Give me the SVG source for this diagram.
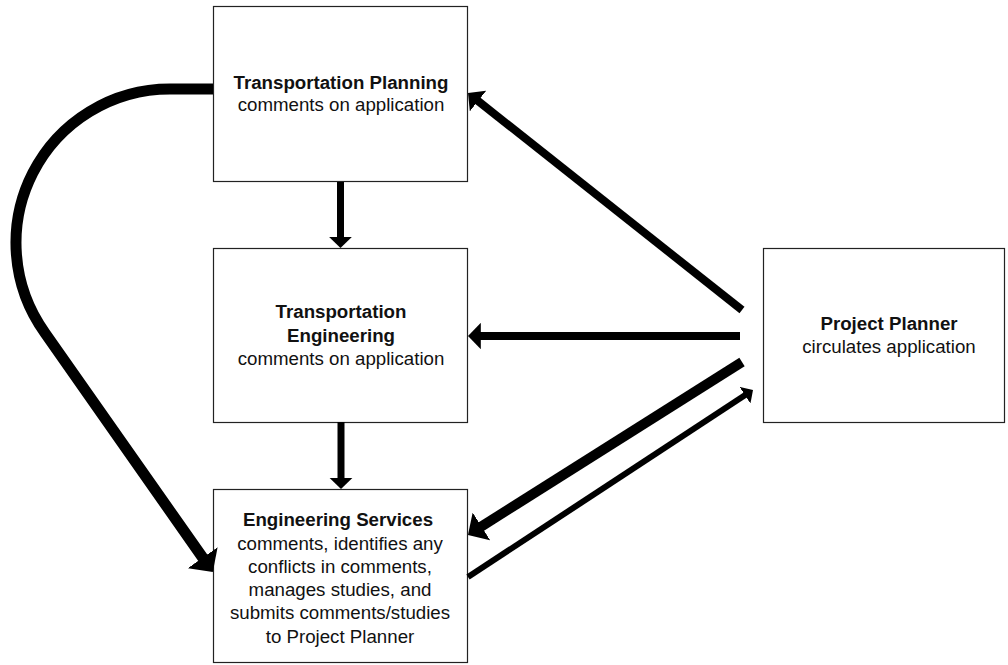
<svg xmlns="http://www.w3.org/2000/svg" width="1008" height="665" viewBox="0 0 1008 665">
<style>
.box{fill:#fff;stroke:#222;stroke-width:1.2}
.t{font-family:"Liberation Sans",Arial,sans-serif;font-size:18.7px;fill:#111;text-anchor:middle}
.b{font-weight:bold}
.c{fill:none;stroke:#000;stroke-linecap:butt;marker-end:url(#ah)}
</style>
<defs>
<marker id="ah" viewBox="0 0 1.6 3.3" markerWidth="1.6" markerHeight="3.3" refX="0.2" refY="1.65" orient="auto" markerUnits="strokeWidth">
<path d="M0,0 L1.6,1.65 L0,3.3 z" fill="#000"/>
</marker>
</defs>
<rect width="1008" height="665" fill="#fff"/>
<g id="tp">
<rect class="box" x="213.5" y="6.5" width="254" height="175"/>
<text class="t b" x="341" y="89">Transportation Planning</text>
<text class="t" x="341" y="111">comments on application</text>
</g>
<g id="te">
<rect class="box" x="213.5" y="248.5" width="254" height="174"/>
<text class="t b" x="341" y="318">Transportation</text>
<text class="t b" x="341" y="342">Engineering</text>
<text class="t" x="341" y="365">comments on application</text>
</g>
<g id="es">
<rect class="box" x="213.5" y="489.5" width="254" height="173"/>
<text class="t b" x="338" y="526">Engineering Services</text>
<text class="t" x="340" y="550">comments, identifies any</text>
<text class="t" x="340" y="573">conflicts in comments,</text>
<text class="t" x="340" y="596">manages studies, and</text>
<text class="t" x="340" y="619">submits comments/studies</text>
<text class="t" x="340" y="643">to Project Planner</text>
</g>
<g id="pp">
<rect class="box" x="763.5" y="248.5" width="241" height="174"/>
<text class="t b" x="889" y="330">Project Planner</text>
<text class="t" x="889" y="353">circulates application</text>
</g>
<g id="connectors">
<line class="c" stroke-width="8" x1="742" y1="310" x2="476.8" y2="100"/>
<line class="c" stroke-width="8" x1="740" y1="336" x2="479.2" y2="336"/>
<line class="c" stroke-width="10" x1="742" y1="362" x2="479.8" y2="527.5"/>
<line class="c" stroke-width="6" x1="468" y1="577" x2="746" y2="394.6"/>
<line class="c" stroke-width="7" x1="340.5" y1="182" x2="340.5" y2="238.2"/>
<line class="c" stroke-width="7" x1="341" y1="422" x2="341" y2="479.2"/>
<path class="c" stroke-width="11" d="M213,89 H170 A154,154 0 0 0 45.1,333.1 L204,559.5"/>
</g>
</svg>
